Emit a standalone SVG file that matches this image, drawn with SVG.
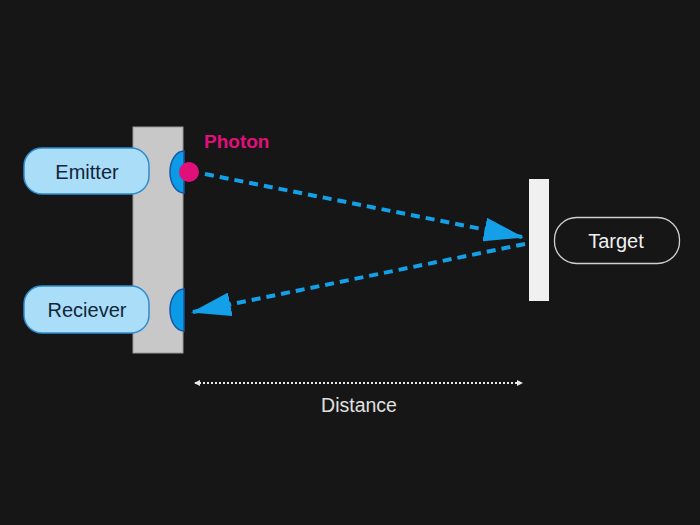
<svg xmlns="http://www.w3.org/2000/svg" width="700" height="525" viewBox="0 0 700 525">
<style>
.bg{fill:#161616}
.node{fill:#a9ddf8;stroke:#2f8cd0;stroke-width:1.5}
.ntext{font-family:"Liberation Sans",Arial,sans-serif;font-size:20px;fill:#12263a;text-anchor:middle;dominant-baseline:central}
.lens{fill:#0b9ae6;stroke:#1a56a0;stroke-width:1.5}
.beam{fill:none;stroke:#14a0e8;stroke-width:4;stroke-dasharray:9 6}
.dist{fill:none;stroke:#e8e8e8;stroke-width:2;stroke-dasharray:2 2}
</style>
<defs>
<marker id="ah" viewBox="0 0 40 24" refX="38" refY="12" markerWidth="40" markerHeight="24" markerUnits="userSpaceOnUse" orient="auto">
<path d="M0,0 L40,12 L0,24 Z" fill="#14a0e8"/>
</marker>
<marker id="dh" viewBox="0 0 6 6" refX="5" refY="3" markerWidth="6" markerHeight="6" markerUnits="userSpaceOnUse" orient="auto-start-reverse">
<path d="M0,0 L6,3 L0,6 Z" fill="#e8e8e8"/>
</marker>
</defs>
<rect class="bg" x="0" y="0" width="700" height="525"/>
<g id="sensor">
<rect x="133" y="127" width="50" height="226" fill="#c8c8c8" stroke="#9a9a9a" stroke-width="1"/>
<path class="lens" d="M184,151 A14,21 0 0 0 184,193 Z"/>
<path class="lens" d="M184,289 A14,21 0 0 0 184,331 Z"/>
</g>
<g id="emitter">
<rect class="node" x="24" y="148" width="125" height="46" rx="18"/>
<text class="ntext" x="87" y="172">Emitter</text>
</g>
<g id="receiver">
<rect class="node" x="24" y="286" width="125" height="47" rx="18"/>
<text class="ntext" x="87" y="310">Reciever</text>
</g>
<g id="photon">
<circle cx="189" cy="172" r="10" fill="#e0107a"/>
<text x="204" y="148" font-family="Liberation Sans,Arial,sans-serif" font-size="19" font-weight="bold" fill="#e0107a">Photon</text>
</g>
<g id="mirror">
<rect x="529" y="179" width="20" height="122" fill="#f0f0f0"/>
</g>
<g id="target">
<rect x="554.5" y="217.5" width="125" height="46" rx="22" fill="none" stroke="#d0d0d0" stroke-width="1.3"/>
<text x="616" y="241" font-family="Liberation Sans,Arial,sans-serif" font-size="20" fill="#f0f0f0" text-anchor="middle" dominant-baseline="central">Target</text>
</g>
<g id="distance">
<text x="359" y="405" font-family="Liberation Sans,Arial,sans-serif" font-size="19.5" fill="#e0e0e0" text-anchor="middle" dominant-baseline="central">Distance</text>
</g>
<g id="connectors">
<path class="beam" d="M205,174 L522,237" marker-end="url(#ah)"/>
<path class="beam" d="M525,244 L193,312" marker-end="url(#ah)"/>
<path class="dist" d="M195,383 L522,383" marker-start="url(#dh)" marker-end="url(#dh)"/>
</g>
</svg>
